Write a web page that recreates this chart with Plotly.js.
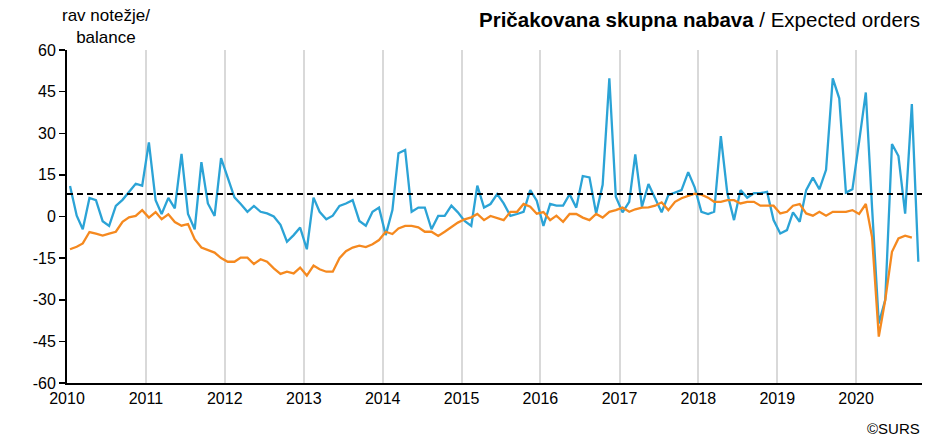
<!DOCTYPE html>
<html>
<head>
<meta charset="utf-8">
<script src="https://cdn.plot.ly/plotly-3.0.1.min.js"></script>
<style>html,body{margin:0;padding:0;background:#fff;}#chart{width:944px;height:442px;}</style>
</head>
<body>
<div id="chart"></div>
<script>
// Monthly data, January 2010 to October 2020
const startYear = 2010;
const startMonth = 1;
const expectedOrders = [
  11, 0.3, -4.6, 6.7, 5.9, -1.7, -3.4, 3.8, 6, 8.9, 11.8, 11.1,
  26.7, 5.9, 0.9, 6.7, 2.9, 22.6, 0.9, -4.6, 19.6, 4.7, 0.2, 21,
  13.8, 6.9, 4.5, 1.7, 3.8, 1.7, 1.1, 0, -3, -9.1, -6.7, -4,
  -11.8, 6.8, 1.7, -1, 0.3, 3.8, 4.7, 5.9, -1.6, -3.3, 1.7, 3.2,
  -6.7, 2.3, 22.8, 24, 1.7, 3.2, 3.2, -4.6, 0.2, 0.2, 3.9, 1.5,
  -1.6, -3.4, 11.1, 3.2, 4.5, 8.1, 4.7, 0.2, 0.9, 1.7, 9.5, 5.7,
  -3.4, 4.5, 3.9, 3.9, 8, 3.2, 14.6, 14.1, 1.1, 11.4, 49.8, 7.1,
  1.5, 5.3, 22.4, 3.5, 11.7, 6.6, 1.5, 7.7, 8.6, 9.5, 16, 10.5,
  1.7, 0.9, 1.7, 29, 8.4, -1.3, 9.5, 6.8, 8.4, 8.4, 8.9, -1.3,
  -6.1, -4.9, 1.5, -1.9, 9.5, 14, 9.8, 16.8, 49.8, 42.6, 8.6, 9.8,
  27, 44.7, 3, -38.5, -30, 26.1, 21.8, 1, 40.5, -16.3
];
const expectedOrdersSA = [
  -11.8, -10.9, -9.7, -5.6, -6.2, -6.9, -6.2, -5.5, -1.9, -0.3, 0.2, 2.3,
  -0.4, 1.6, -1, 0.8, -2, -3.3, -2.7, -8.2, -11.2, -12, -13, -15,
  -16.3, -16.3, -14.8, -14.8, -17.1, -15.4, -16.3, -18.7, -20.7, -19.9, -20.5, -18.4,
  -21.3, -17.7, -19, -19.9, -19.9, -15, -12.5, -11.2, -10.5, -11, -10, -8.5,
  -5.5, -6.3, -4.3, -3.4, -3.4, -3.9, -5.5, -5.5, -7, -5.5, -3.9, -2.2,
  -1, -0.3, 0.9, -1.3, 0.2, -0.7, -1.3, 1.7, 1.7, 4.5, 3.5, 1,
  1.6, -1.3, 0.3, -1.9, 0.9, 0.9, -0.4, -1.3, 0.9, -0.4, 1.7, 2.3,
  3.2, 1.7, 2.6, 3.2, 3.3, 3.9, 5.1, 2.3, 5.3, 6.6, 7.5, 8.2,
  7.9, 6.8, 5.3, 5.3, 5.9, 5.9, 4.7, 5.3, 5.3, 3.9, 3.9, 3.9,
  1.1, 1.7, 3.9, 4.5, 1.1, 0.3, 1.7, 0.3, 1.7, 1.7, 1.7, 2.3,
  0.9, 4.5, -7.5, -43.3, -30, -12.7, -7.9, -6.9, -7.6
];
const longTermAverage = 8.1;
const yTicks = [-60, -45, -30, -15, 0, 15, 30, 45, 60];
const yearTicks = ['2010','2011','2012','2013','2014','2015','2016','2017','2018','2019','2020'];

function monthDates(n) {
  const out = [];
  for (let i = 0; i < n; i++) {
    const y = startYear + Math.floor((startMonth - 1 + i) / 12);
    const m = ((startMonth - 1 + i) % 12) + 1;
    out.push(y + '-' + String(m).padStart(2, '0') + '-15');
  }
  return out;
}
const xBlue = monthDates(expectedOrders.length);
const xOrange = monthDates(expectedOrdersSA.length);
const xStart = '2010-01-01';
const xEnd = '2020-11-01';

const traces = [
  {x: xBlue, y: expectedOrders, type: 'scatter', mode: 'lines',
   line: {color: '#2ba3d6', width: 2.3}, hoverinfo: 'skip'},
  {x: xOrange, y: expectedOrdersSA, type: 'scatter', mode: 'lines',
   line: {color: '#f5891f', width: 2.3}, hoverinfo: 'skip'},
  {x: [xStart, xEnd], y: [longTermAverage, longTermAverage], type: 'scatter', mode: 'lines',
   line: {color: '#000000', width: 2, dash: '6px,4px'}, hoverinfo: 'skip'}
];

const layout = {
  width: 944, height: 442,
  margin: {l: 67, r: 22, t: 50, b: 59},
  paper_bgcolor: '#ffffff', plot_bgcolor: '#ffffff',
  showlegend: false,
  font: {family: 'Liberation Sans, Arial, sans-serif', size: 16, color: '#000'},
  xaxis: {
    type: 'date',
    range: [xStart, xEnd],
    tickvals: yearTicks.map(y => y + '-01-01'),
    ticktext: yearTicks,
    showgrid: true, gridcolor: '#d9d9d9', gridwidth: 2,
    showline: true, linecolor: '#000', linewidth: 2,
    ticks: '', zeroline: false,
    tickfont: {size: 16}
  },
  yaxis: {
    range: [-60, 60],
    tickvals: yTicks,
    ticktext: yTicks.map(String),
    showgrid: false, zeroline: false,
    showline: true, linecolor: '#000', linewidth: 2,
    ticks: 'outside', ticklen: 6, tickwidth: 1.5, tickcolor: '#000',
    tickfont: {size: 16}
  },
  annotations: [
    {xref: 'paper', yref: 'paper', x: 1, y: 1, yshift: 31, xanchor: 'right', yanchor: 'middle',
     text: '<b>Pričakovana skupna nabava</b> / Expected orders', showarrow: false,
     font: {size: 20.5, color: '#000'}},
    {xref: 'paper', yref: 'paper', x: 0, xshift: 39, y: 1, yshift: 24, xanchor: 'center', yanchor: 'middle',
     text: 'rav notežje/<br>balance', showarrow: false, font: {size: 17, color: '#000'}},
    {xref: 'paper', yref: 'paper', x: 1, y: 0, yshift: -45, xanchor: 'right', yanchor: 'middle',
     text: '©SURS', showarrow: false, font: {size: 15, color: '#000'}}
  ]
};

Plotly.newPlot('chart', traces, layout, {displayModeBar: false, staticPlot: true});
</script>
</body>
</html>
